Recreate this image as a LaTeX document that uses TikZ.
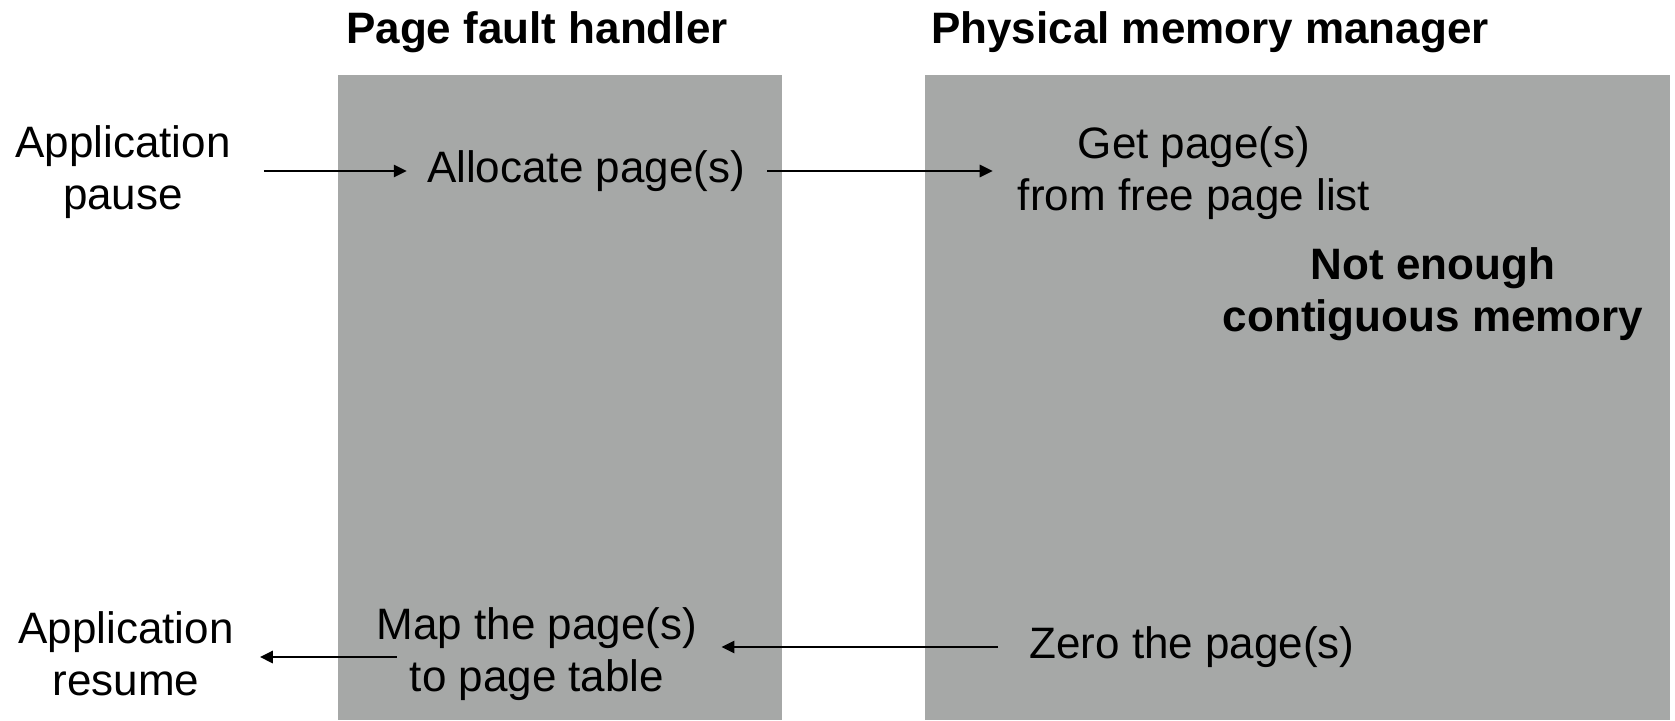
\documentclass[tikz,border=0pt]{standalone}
\usepackage{fontspec}
\setmainfont{Liberation Sans}
\usetikzlibrary{arrows.meta}
\definecolor{panelgray}{RGB}{166,168,167}
\begin{document}
\begin{tikzpicture}[x=1pt,y=-1pt,
  panel/.style={fill=panelgray,draw=none},
  lbl/.style={font=\fontsize{44}{52}\selectfont,align=center,inner sep=0pt,text=black},
  ttl/.style={font=\fontsize{44}{52}\selectfont\bfseries,inner sep=0pt,text=black},
  conn/.style={line width=2.8pt,-{Triangle[length=13pt,width=12pt]}}]
\useasboundingbox (0,0) rectangle (1675,720);
\fill[white] (0,0) rectangle (1675,720);
\path[panel] (337.5,75) rectangle (782,720);
\path[panel] (925,75) rectangle (1670,720);
\node[ttl] (t1) at (537,32) {Page fault handler};
\node[ttl] (t2) at (1210,32) {Physical memory manager};
\node[lbl] (pause) at (123,172) {Application\\pause};
\node[lbl] (alloc) at (586,171) {Allocate page(s)};
\node[lbl] (get) at (1194,173) {Get page(s)\\from free page list};
\node[lbl,font=\fontsize{44}{52}\selectfont\bfseries] (nem) at (1433,294) {Not enough\\contiguous memory};
\node[lbl] (resume) at (126,654) {Application\\resume};
\node[lbl] (map) at (537,654) {Map the page(s)\\to page table};
\node[lbl] (zero) at (1192,647) {Zero the page(s)};
\draw[conn] ([xshift=33pt]pause.east |- alloc.west) -- ([xshift=-20pt]alloc.west);
\draw[conn] ([xshift=22pt]alloc.east) -- ([xshift=-25pt]get.west |- alloc.east);
\draw[conn] ([xshift=-31pt]zero.west) -- ([xshift=24pt]map.east |- zero.west);
\draw[conn] ([xshift=20pt]map.west |- 0,657) -- ([xshift=26pt]resume.east |- 0,657);
\end{tikzpicture}
\end{document}
